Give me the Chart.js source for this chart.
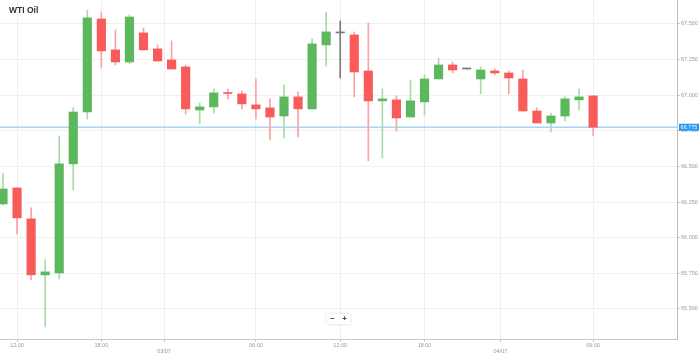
<!DOCTYPE html>
<html>
<head>
<meta charset="utf-8">
<script src="https://cdn.jsdelivr.net/npm/chart.js@4.4.0/dist/chart.umd.min.js"></script>
<style>
html,body{margin:0;padding:0;background:#fff;}
canvas{display:block;}
</style>
</head>
<body>
<canvas id="c" width="699" height="356"></canvas>
<script>
const title = 'WTI Oil';
const opens  = [66.237,66.349,66.132,65.739,65.753,66.518,66.882,67.535,67.318,67.233,67.437,67.325,67.247,67.198,66.896,66.918,67.019,67.009,66.932,66.911,66.854,66.988,66.904,67.353,67.437,67.423,67.170,66.960,66.967,66.847,66.953,67.114,67.212,67.184,67.114,67.170,67.156,67.114,66.889,66.805,66.854,66.967,66.995];
const highs  = [66.454,66.350,66.209,65.844,66.714,66.911,67.598,67.584,67.458,67.563,67.472,67.353,67.381,67.212,66.946,67.044,67.044,67.030,67.114,66.974,67.072,67.023,67.395,67.584,67.521,67.444,67.507,67.044,66.995,67.107,67.142,67.261,67.233,67.186,67.198,67.184,67.170,67.177,66.911,66.875,66.988,67.044,66.995];
const lows   = [66.230,66.026,65.704,65.374,65.711,66.335,66.833,67.191,67.212,67.219,67.318,67.240,67.184,66.868,66.798,66.875,66.974,66.904,66.833,66.686,66.700,66.707,66.904,67.205,67.121,66.988,66.539,66.560,66.749,66.847,66.861,67.114,67.156,67.182,67.009,67.142,67.009,66.889,66.805,66.742,66.819,66.896,66.714];
const closes = [66.342,66.139,65.739,65.760,66.518,66.882,67.542,67.311,67.233,67.549,67.318,67.240,67.184,66.904,66.918,67.016,67.012,66.939,66.904,66.847,66.988,66.904,67.360,67.444,67.437,67.163,66.960,66.974,66.840,66.960,67.114,67.212,67.177,67.184,67.177,67.156,67.121,66.889,66.805,66.854,66.974,66.988,66.775];
const xTickPos    = [1, 7, 11.46, 18, 24, 30, 35.4, 42];
const xTickLabels = ['12:00', '18:00', '03/07', '06:00', '12:00', '18:00', '04/07', '06:00'];
const xTickIsDate = [false, false, true, false, false, false, true, false];
const yTicks = [65.5, 65.75, 66.0, 66.25, 66.5, 66.75, 67.0, 67.25, 67.5];

const GREEN = '#5cb85c', RED = '#f95a5a', GRAY = '#7a7a7a';
const GREEN_W = '#a8dba8', RED_W = '#f8a3a3', GRAY_W = '#7a7a7a';
function dir(i){ return closes[i] > opens[i] ? 1 : (closes[i] < opens[i] ? -1 : 0); }
const bodyColors = opens.map((o,i)=> dir(i)>0?GREEN:(dir(i)<0?RED:GRAY));
const wickColors = opens.map((o,i)=> dir(i)>0?GREEN_W:(dir(i)<0?RED_W:GRAY_W));

Chart.defaults.font.family = '"Liberation Sans", Arial, sans-serif';

const deco = {
  id: 'deco',
  beforeDatasetsDraw(chart){
    const {ctx, chartArea, scales} = chart;
    const y = scales.y.getPixelForValue(closes[closes.length-1]);
    ctx.save();
    ctx.strokeStyle = '#a6d5f8';
    ctx.lineWidth = 1.5;
    ctx.beginPath(); ctx.moveTo(chartArea.left, y); ctx.lineTo(chartArea.right, y); ctx.stroke();
    ctx.restore();
  },
  afterDraw(chart){
    const {ctx, chartArea, scales} = chart;
    ctx.save();
    // title
    ctx.fillStyle = '#333';
    ctx.font = 'bold 8.5px "Liberation Sans", Arial, sans-serif';
    ctx.textBaseline = 'middle';
    ctx.textAlign = 'left';
    ctx.fillText(title, 9, 10.5);
    // current price box
    const last = closes[closes.length-1];
    const y = scales.y.getPixelForValue(last);
    ctx.fillStyle = '#2196f3';
    ctx.fillRect(chartArea.right + 2, y - 3.5, 21, 7);
    ctx.fillStyle = '#fff';
    ctx.font = '5.5px "Liberation Sans", Arial, sans-serif';
    ctx.textAlign = 'center';
    ctx.fillText(last.toFixed(3), chartArea.right + 12, y + 0.3);
    // zoom buttons
    const bx = (chartArea.left + chartArea.right)/2 - 12, by = chartArea.bottom - 25;
    ctx.shadowColor = 'rgba(0,0,0,0.18)';
    ctx.shadowBlur = 3;
    ctx.fillStyle = '#fff';
    ctx.fillRect(bx, by, 24, 10);
    ctx.shadowBlur = 0; ctx.shadowColor = 'transparent';
    ctx.fillStyle = '#444';
    ctx.font = 'bold 8px "Liberation Sans", Arial, sans-serif';
    ctx.fillText('\u2212', bx + 6, by + 5);
    ctx.fillText('+', bx + 18, by + 5);
    ctx.restore();
  }
};

new Chart(document.getElementById('c'), {
  type: 'bar',
  data: {
    datasets: [
      {
        label: 'wick',
        data: lows.map((l,i)=>({x:i, y:[l, highs[i]]})),
        backgroundColor: wickColors,
        barThickness: 1,
        minBarLength: 1,
        grouped: false,
        order: 2
      },
      {
        label: 'body',
        data: opens.map((o,i)=>({x:i, y:[o, closes[i]]})),
        backgroundColor: bodyColors,
        barThickness: 8.5,
        minBarLength: 1,
        grouped: false,
        order: 1
      }
    ]
  },
  options: {
    responsive: false,
    animation: false,
    devicePixelRatio: 1,
    layout: { padding: 0 },
    plugins: { legend: { display: false }, tooltip: { enabled: false }, title: { display: false } },
    scales: {
      x: {
        type: 'linear',
        min: -0.2135,
        max: 47.97,
        offset: false,
        afterBuildTicks(s){ s.ticks = xTickPos.map(v=>({value:v})); },
        afterFit(s){ s.height = 17; s.paddingLeft = 0; s.paddingRight = 0; },
        ticks: {
          autoSkip: false,
          maxRotation: 0,
          padding: 0,
          color: '#999',
          font: { size: 5.5 },
          callback(v){
            const k = xTickPos.indexOf(v);
            if (k < 0) return '';
            return xTickIsDate[k] ? ['', xTickLabels[k]] : xTickLabels[k];
          }
        },
        grid: { offset: false, color: '#efefef', tickColor: '#c8c8c8', tickLength: 3 },
        border: { color: '#c8c8c8' }
      },
      y: {
        position: 'right',
        min: 65.289,
        max: 67.668,
        afterBuildTicks(s){ s.ticks = yTicks.map(v=>({value:v})); },
        afterFit(s){ s.width = 22; s.paddingTop = 0; s.paddingBottom = 0; },
        ticks: {
          padding: 1,
          color: '#999',
          font: { size: 5.5 },
          callback(v){ return Number(v).toFixed(3); }
        },
        grid: { color: '#f0f0f0', tickColor: '#c8c8c8', tickLength: 3 },
        border: { color: '#bdbdbd' }
      }
    }
  },
  plugins: [deco]
});
</script>
</body>
</html>
